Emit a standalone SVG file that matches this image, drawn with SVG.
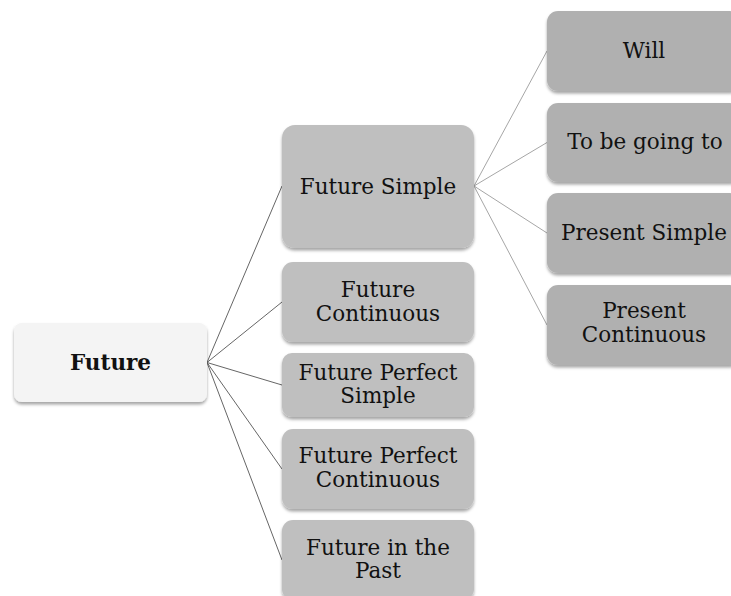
<svg xmlns="http://www.w3.org/2000/svg" width="731" height="596" viewBox="0 0 731 596">
  <defs>
    <filter id="shadow" x="-10%" y="-10%" width="120%" height="130%">
      <feDropShadow dx="0" dy="2.5" stdDeviation="1.6" flood-color="#000" flood-opacity="0.35"/>
    </filter>
  </defs>
  <style>
    .box { filter: url(#shadow); }
    .root { fill: #f4f4f4; }
    .l1 { fill: #bfbfbf; }
    .l2 { fill: #b0b0b0; }
    text { font-family: "DejaVu Serif", "Liberation Serif", serif; font-size: 21.5px; fill: #111; text-anchor: middle; }
    .bold { font-weight: bold; }
    .c1 { stroke: #666; stroke-width: 1; fill: none; }
    .c2 { stroke: #a6a6a6; stroke-width: 1; fill: none; }
  </style>
  <rect width="731" height="596" fill="#fff"/>

  <g id="connectors">
    <line class="c1" x1="207" y1="362.5" x2="282" y2="186"/>
    <line class="c1" x1="207" y1="362.5" x2="282" y2="302"/>
    <line class="c1" x1="207" y1="362.5" x2="282" y2="385"/>
    <line class="c1" x1="207" y1="362.5" x2="282" y2="469"/>
    <line class="c1" x1="207" y1="362.5" x2="282" y2="560"/>
    <line class="c2" x1="474" y1="186" x2="547" y2="51"/>
    <line class="c2" x1="474" y1="186" x2="547" y2="142.5"/>
    <line class="c2" x1="474" y1="186" x2="547" y2="233"/>
    <line class="c2" x1="474" y1="186" x2="547" y2="325"/>
  </g>

  <g id="future">
    <rect class="box root" x="14" y="323" width="193" height="79" rx="8"/>
    <text class="bold" x="110.5" y="370">Future</text>
  </g>

  <g id="future-simple">
    <rect class="box l1" x="282" y="125" width="192" height="123" rx="13"/>
    <text x="378" y="194">Future Simple</text>
  </g>
  <g id="future-continuous">
    <rect class="box l1" x="282" y="262" width="192" height="80" rx="11"/>
    <text x="378" y="297">Future</text>
    <text x="378" y="321">Continuous</text>
  </g>
  <g id="future-perfect-simple">
    <rect class="box l1" x="282" y="353" width="192" height="64" rx="10"/>
    <text x="378" y="380">Future Perfect</text>
    <text x="378" y="403">Simple</text>
  </g>
  <g id="future-perfect-continuous">
    <rect class="box l1" x="282" y="429" width="192" height="80" rx="11"/>
    <text x="378" y="463">Future Perfect</text>
    <text x="378" y="487">Continuous</text>
  </g>
  <g id="future-in-the-past">
    <rect class="box l1" x="282" y="520" width="192" height="80" rx="11"/>
    <text x="378" y="555">Future in the</text>
    <text x="378" y="578">Past</text>
  </g>

  <g id="will">
    <rect class="box l2" x="547" y="11" width="194" height="80" rx="11"/>
    <text x="644" y="58">Will</text>
  </g>
  <g id="to-be-going-to">
    <rect class="box l2" x="547" y="103" width="194" height="79" rx="11"/>
    <text x="645" y="149">To be going to</text>
  </g>
  <g id="present-simple">
    <rect class="box l2" x="547" y="193" width="194" height="80" rx="11"/>
    <text x="644" y="240">Present Simple</text>
  </g>
  <g id="present-continuous">
    <rect class="box l2" x="547" y="285" width="194" height="80" rx="11"/>
    <text x="644" y="318">Present</text>
    <text x="644" y="342">Continuous</text>
  </g>
</svg>
